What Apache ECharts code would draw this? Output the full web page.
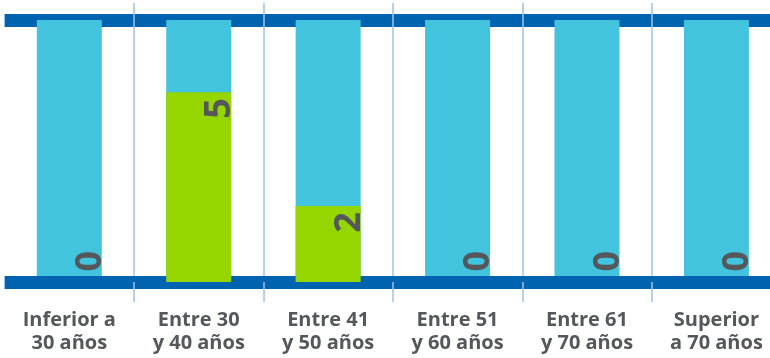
<!DOCTYPE html>
<html>
<head>
<meta charset="utf-8">
<script src="https://cdn.jsdelivr.net/npm/echarts@6/dist/echarts.min.js"></script>
<style>
html,body{margin:0;padding:0;background:#fff;}
#chart{width:770px;height:358px;}
</style>
</head>
<body>
<div id="chart"></div>
<script>
var categories = ['Inferior a\n30 años','Entre 30\ny 40 años','Entre 41\ny 50 años','Entre 51\ny 60 años','Entre 61\ny 70 años','Superior\na 70 años'];
var totalValues = [6.9, 6.9, 6.9, 6.9, 6.9, 6.9];
var countValues = [0, 5, 2, 0, 0, 0];
var axisMax = 6.9;

var BAND = '#0063b0', LIGHT = '#42c4de', GREEN = '#95d600', SEP = '#9cc4e4', TXT = '#55575b';

var chart = echarts.init(document.getElementById('chart'));
var greenData = countValues.map(function (v) {
  return {
    value: v,
    label: { position: v === 0 ? [72, -31] : [72, 6] }
  };
});
chart.setOption({
  animation: false,
  grid: { left: 4.6, width: 776.5, top: 20, height: 262, outerBoundsMode: 'none', containLabel: false },
  xAxis: [{
    type: 'category',
    data: categories,
    position: 'bottom',
    z: 2.5,
    axisLine: { show: true, lineStyle: { color: BAND, width: 13, cap: 'butt' } },
    axisTick: { show: true, length: 20, interval: function (i) { return i > 0; }, lineStyle: { color: SEP, width: 1.5 } },
    splitLine: { show: true, interval: function (i) { return i > 0; }, lineStyle: { color: SEP, width: 1.5 } },
    axisLabel: {
      interval: 0, margin: 27, color: TXT,
      fontFamily: 'Open Sans', fontWeight: 'bold', fontSize: 20, lineHeight: 23
    }
  }, {
    type: 'category',
    data: categories,
    position: 'top',
    z: 0,
    axisLine: { show: true, lineStyle: { color: BAND, width: 13, cap: 'butt' } },
    axisTick: { show: true, length: 17, interval: function (i) { return i > 0; }, lineStyle: { color: SEP, width: 1.5 } },
    axisLabel: { show: false }
  }],
  yAxis: { type: 'value', min: 0, max: axisMax, show: false, splitLine: { show: false } },
  series: [{
    type: 'bar',
    data: totalValues,
    barWidth: 65,
    z: 1,
    itemStyle: { color: LIGHT },
    silent: true
  }, {
    type: 'bar',
    data: greenData,
    barWidth: 65,
    barGap: '-100%',
    z: 3,
    itemStyle: { color: GREEN },
    label: {
      show: true,
      rotate: 90,
      align: 'right',
      verticalAlign: 'bottom',
      color: TXT,
      fontFamily: 'Open Sans',
      fontWeight: 'bold',
      fontSize: 36
    }
  }]
});
</script>
</body>
</html>
